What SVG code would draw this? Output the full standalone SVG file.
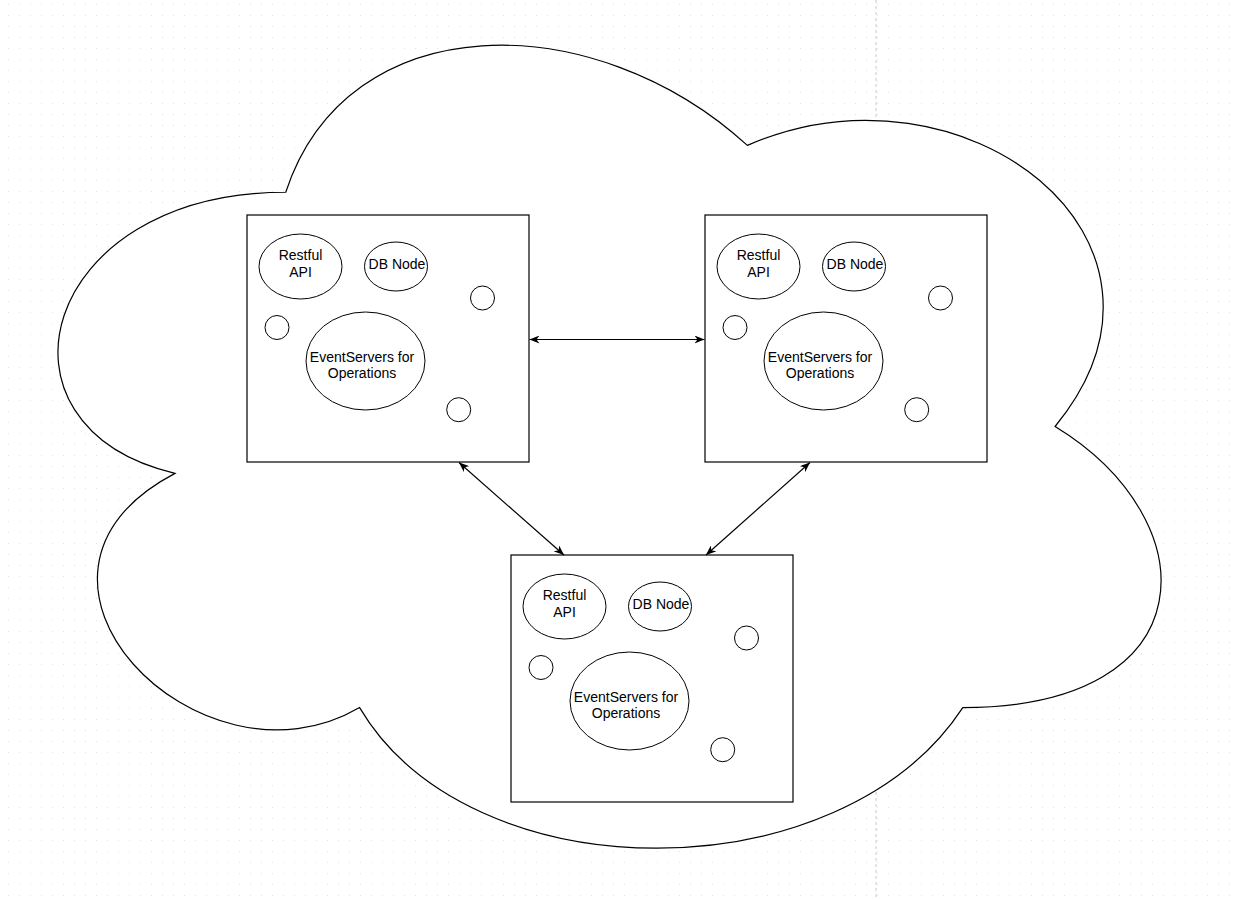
<svg xmlns="http://www.w3.org/2000/svg" width="1238" height="900" viewBox="0 0 1238 900">
<defs>
<pattern id="grid" x="0" y="0" width="11" height="11" patternUnits="userSpaceOnUse">
<rect x="8" y="4" width="1" height="1" fill="#e2e2e2"/>
</pattern>
<marker id="arr" viewBox="0 0 10 8" refX="10" refY="4" markerWidth="10" markerHeight="8" orient="auto-start-reverse" markerUnits="userSpaceOnUse">
<path d="M0,0 L10,4 L0,8 L3,4 Z" fill="#000"/>
</marker>
<g id="inner">
<ellipse cx="300.5" cy="266.5" rx="41.5" ry="32.5" class="sh"/>
<text x="300.5" y="260" class="tx">Restful</text>
<text x="300.5" y="276.5" class="tx">API</text>
<ellipse cx="396" cy="266.5" rx="31.5" ry="24.5" class="sh"/>
<text x="397" y="269" class="tx">DB Node</text>
<circle cx="482.5" cy="298" r="12" class="sh"/>
<circle cx="277" cy="327.5" r="12" class="sh"/>
<ellipse cx="365.5" cy="361" rx="59.5" ry="49" class="sh"/>
<text x="362" y="361.5" class="tx">EventServers for</text>
<text x="362" y="378" class="tx">Operations</text>
<circle cx="458.7" cy="409.7" r="12" class="sh"/>
</g>
</defs>
<style>
.sh{fill:#fff;stroke:#000;stroke-width:1}
.box{fill:#fff;stroke:#000;stroke-width:1.2}
.tx{font-family:"Liberation Sans",Arial,Helvetica,sans-serif;font-size:14px;fill:#000;text-anchor:middle}
.conn{stroke:#000;stroke-width:1.2;fill:none;marker-start:url(#arr);marker-end:url(#arr)}
</style>
<rect x="0" y="0" width="1238" height="900" fill="#fff"/>
<rect x="0" y="0" width="1238" height="900" fill="url(#grid)"/>
<line x1="876" y1="0" x2="876" y2="900" stroke="#c8c8c8" stroke-width="1" stroke-dasharray="3,3"/>
<g id="cloud">
<path d="M285.75,192.25 C39.55,192.25 -22,426.5 174.96,473.35 C-22,576.4 199.58,801.3 359.61,707.6 C470.4,895 839.7,895 962.8,707.6 C1209,707.6 1209,520.2 1055.1,426.5 C1209,239.1 962.8,51.7 747.4,145.4 C593.5,4.85 347.3,4.85 285.75,192.25 Z" fill="#fff" stroke="#000" stroke-width="1.2"/>
</g>
<g id="server1">
<rect x="247" y="215" width="282" height="247" class="box"/>
<use href="#inner"/>
</g>
<g id="server2">
<rect x="705" y="215" width="282" height="247" class="box"/>
<use href="#inner" transform="translate(458,0)"/>
</g>
<g id="server3">
<rect x="511" y="555" width="282" height="247" class="box"/>
<use href="#inner" transform="translate(264,340)"/>
</g>
<g id="connectors">
<line x1="529.5" y1="339.5" x2="704.5" y2="339.5" class="conn"/>
<line x1="459" y1="462.5" x2="564" y2="555" class="conn"/>
<line x1="810" y1="462.5" x2="706" y2="555" class="conn"/>
</g>
</svg>
